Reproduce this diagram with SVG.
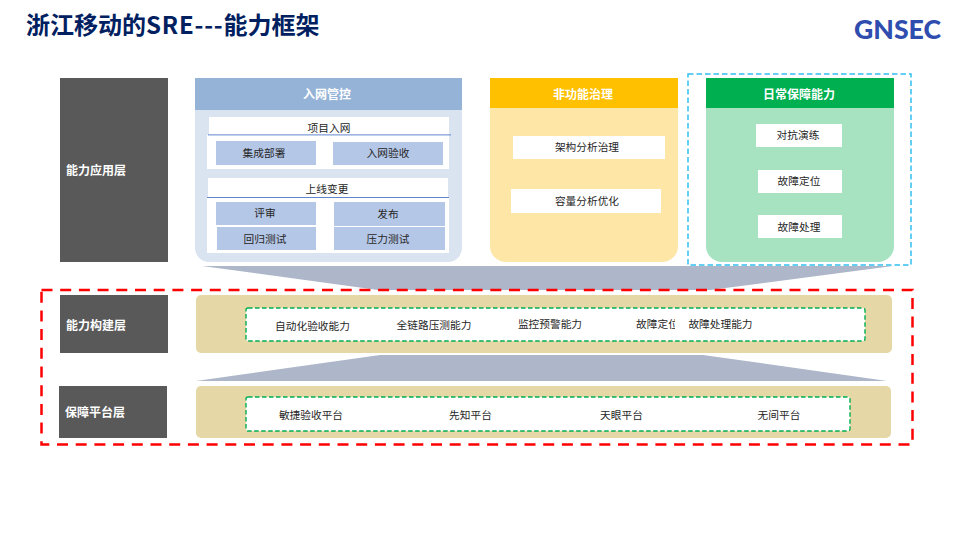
<svg xmlns="http://www.w3.org/2000/svg" width="959" height="539" viewBox="0 0 959 539">
<style>
text{font-family:"Noto Sans CJK SC","Liberation Sans",sans-serif;text-anchor:middle}
.t{font-size:10.7px;fill:#262626}
.w{font-size:12px;font-weight:700;fill:#fff}
.l{text-anchor:start}
.dark{fill:#595959}
.cell{fill:#B4C7E7}
.white{fill:#fff}
.chev{fill:#ADB7C9}
.beige{fill:#E6D7A7}
.dg{fill:#fff;stroke:#00B050;stroke-width:1.400;stroke-dasharray:4.500 2.500}
.rule{stroke:#5F85CC;stroke-width:1;fill:none}
</style>
<defs><clipPath id="cut"><rect x="620" y="310" width="55" height="30"/></clipPath></defs>
<rect width="959" height="539" fill="#fff"/>
<text id="title" x="26" y="33.500" class="l" style="font-size:24px;font-weight:700;fill:#002060">浙江移动的<tspan letter-spacing="0.800">SRE---</tspan>能力框架</text>
<text id="logo" x="854" y="39" class="l" textLength="87" lengthAdjust="spacingAndGlyphs" style="font-family:Lato,'Liberation Sans',sans-serif;font-size:26.500px;font-weight:900;fill:#2F4DAF">GNSEC</text>

<g id="connectors">
<polygon class="chev" points="202,266 893,266 710,290 378,290"/>
<polygon class="chev" points="380,355 703,355 887,381 196,381"/>
</g>

<g id="layer-app"><rect class="dark" x="60" y="78" width="108" height="184"/><text class="w l" x="66" y="175">能力应用层</text></g>
<g id="layer-build"><rect class="dark" x="60" y="295" width="108" height="58"/><text class="w l" x="66" y="330">能力构建层</text></g>
<g id="layer-platform"><rect class="dark" x="59" y="386" width="108" height="52"/><text class="w l" x="65" y="417">保障平台层</text></g>

<g id="access">
<rect x="195" y="90" width="267" height="172" rx="14" fill="#DAE3F0"/>
<rect x="195" y="78" width="267" height="32" fill="#95B3D7"/>
<text class="w" x="327" y="99">入网管控</text>
<rect class="white" x="209" y="117" width="240" height="18"/>
<rect class="white" x="207" y="135" width="242" height="34"/>
<line class="rule" x1="208" y1="134.900" x2="451" y2="134.900"/>
<text class="t" x="329" y="132">项目入网</text>
<rect class="cell" x="216" y="141" width="100" height="24"/><text class="t" x="264" y="157">集成部署</text>
<rect class="cell" x="333" y="142" width="110" height="23"/><text class="t" x="388" y="157">入网验收</text>
<rect class="white" x="208" y="178" width="240" height="19"/>
<rect class="white" x="207" y="197" width="242" height="56"/>
<line class="rule" x1="207" y1="197.500" x2="449" y2="197.500"/>
<text class="t" x="327" y="193">上线变更</text>
<rect class="cell" x="216" y="202" width="100" height="23"/><text class="t" x="265" y="217">评审</text>
<rect class="cell" x="334" y="202" width="111" height="24"/><text class="t" x="388" y="218">发布</text>
<rect class="cell" x="217" y="227" width="99" height="23"/><text class="t" x="265" y="243">回归测试</text>
<rect class="cell" x="334" y="227" width="111" height="23"/><text class="t" x="388" y="243">压力测试</text>
</g>

<g id="nonfunc">
<rect x="490" y="90" width="188" height="172" rx="16" fill="#FEE6A6"/>
<rect x="490" y="78" width="188" height="30" fill="#FFC000"/>
<text class="w" x="583" y="98.500">非功能治理</text>
<rect class="white" x="513" y="136" width="152" height="23"/><text class="t" x="587" y="151">架构分析治理</text>
<rect class="white" x="511" y="189" width="150" height="24"/><text class="t" x="587" y="205">容量分析优化</text>
</g>

<g id="daily">
<rect x="688" y="74" width="223" height="191" fill="none" stroke="#33C0F0" stroke-width="1.500" stroke-dasharray="5.500 3"/>
<rect x="706" y="90" width="188" height="172" rx="16" fill="#A8E3C1"/>
<rect x="706" y="78" width="188" height="30" fill="#00B050"/>
<text class="w" x="799" y="98.500">日常保障能力</text>
<rect class="white" x="756" y="124" width="86" height="23"/><text class="t" x="798" y="139">对抗演练</text>
<rect class="white" x="758" y="170" width="84" height="23"/><text class="t" x="799" y="185">故障定位</text>
<rect class="white" x="758" y="215" width="84" height="23"/><text class="t" x="799" y="231">故障处理</text>
</g>

<g id="build">
<rect class="beige" x="196" y="295" width="696" height="58" rx="5"/>
<rect class="dg" x="246" y="308" width="619" height="33" rx="2"/>
<text class="t" x="312.500" y="330">自动化验收能力</text>
<text class="t" x="434" y="329">全链路压测能力</text>
<text class="t" x="550" y="328">监控预警能力</text>
<text class="t" x="657.500" y="328" clip-path="url(#cut)">故障定位</text>
<text class="t" x="720.500" y="328">故障处理能力</text>
</g>

<g id="platform">
<rect class="beige" x="196" y="386" width="695" height="52" rx="5"/>
<rect class="dg" x="246" y="397" width="604" height="34" rx="2"/>
<text class="t" x="311" y="419">敏捷验收平台</text>
<text class="t" x="470.500" y="419">先知平台</text>
<text class="t" x="621.500" y="419">天眼平台</text>
<text class="t" x="779" y="419">无间平台</text>
</g>

<rect id="red-frame" x="41.500" y="290" width="871" height="154.500" fill="none" stroke="#FF0000" stroke-width="2.500" stroke-dasharray="11 7.700"/>
</svg>
